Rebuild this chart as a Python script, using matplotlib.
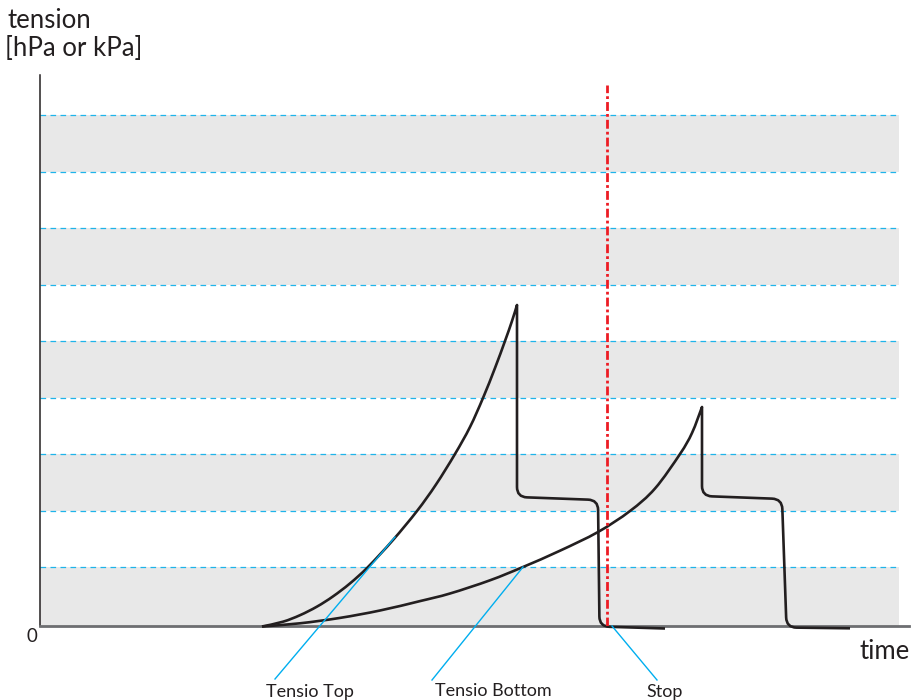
import matplotlib
matplotlib.use("Agg")
import matplotlib.pyplot as plt
import numpy as np
from matplotlib.path import Path
from matplotlib.patches import PathPatch

plt.rcParams['font.family'] = ['Lato', 'DejaVu Sans']

# ---- data (time units, tension units) ----
grid_levels = [5.9, 11.5, 17.2, 22.8, 28.5, 34.1, 39.8, 45.4, 51.1]
gray_bands = [(0.0, 5.9), (11.5, 17.2), (22.8, 28.5), (34.1, 39.8), (45.4, 51.1)]

# Tensio Top: rising part, then the drop (corner points)
top_rise_t = [22.2, 24.3, 26.0, 27.7, 29.3, 31.0, 32.8, 35.3, 37.7, 39.6, 41.5,
              43.0, 44.3, 45.5, 46.5, 47.2, 47.7]
top_rise_v = [-0.05, 0.43, 1.08, 1.94, 2.96, 4.26, 5.9, 8.6, 11.5, 14.15, 17.2,
              19.9, 22.8, 25.8, 28.5, 30.5, 32.1]
top_fall_t = [47.7, 47.7, 55.8, 55.95, 62.5]
top_fall_v = [32.1, 12.9, 12.6, -0.05, -0.25]

# Tensio Bottom
bot_rise_t = [22.2, 26.0, 30.0, 34.0, 38.0, 41.0, 45.0, 48.3, 52.0, 55.8, 59.0,
              61.5, 64.0, 65.2, 66.2]
bot_rise_v = [-0.05, 0.27, 0.81, 1.55, 2.49, 3.25, 4.57, 5.9, 7.53, 9.4, 11.5,
              13.75, 17.2, 19.3, 21.9]
bot_fall_t = [66.2, 66.2, 74.2, 74.65, 81.0]
bot_fall_v = [21.9, 13.0, 12.7, -0.15, -0.23]

stop_t = 56.7
stop_top = 54.1

labels = ["Tensio Top", "Tensio Bottom", "Stop"]
label_t = [26.95, 45.35, 62.5]
callout_from = [(35.5, 8.9), (48.3, 5.9), (57.2, 0.0)]
callout_to = [(23.5, -5.3), (39.2, -5.4), (61.7, -5.4)]


def smooth_segments(xs, ys):
    """Cubic Bezier segments passing through the given points."""
    P = np.column_stack([xs, ys]).astype(float)
    n = len(P)
    verts, codes = [], []
    for i in range(n - 1):
        p0 = P[i - 1] if i > 0 else P[i]
        p1, p2 = P[i], P[i + 1]
        p3 = P[i + 2] if i + 2 < n else P[i + 1]
        c1 = p1 + (p2 - p0) / 6.0
        c2 = p2 - (p3 - p1) / 6.0
        verts += [c1, c2, p2]
        codes += [Path.CURVE4] * 3
    return verts, codes


def rounded_segments(xs, ys, r):
    """Polyline with rounded corners (continuing from first point)."""
    P = np.column_stack([xs, ys]).astype(float)
    verts, codes = [], []
    for i in range(1, len(P) - 1):
        prev, cur, nxt = P[i - 1], P[i], P[i + 1]
        d1 = cur - prev
        d2 = nxt - cur
        l1, l2 = np.hypot(*d1), np.hypot(*d2)
        rr = min(r, l1 / 2, l2 / 2)
        a = cur - d1 / l1 * rr
        b = cur + d2 / l2 * rr
        verts += [a, cur, b]
        codes += [Path.LINETO, Path.CURVE3, Path.CURVE3]
    verts.append(P[-1])
    codes.append(Path.LINETO)
    return verts, codes


def curve_patch(rt, rv, ft, fv):
    v1, c1 = smooth_segments(rt, rv)
    v2, c2 = rounded_segments(ft, fv, 1.0)
    verts = [(rt[0], rv[0])] + v1 + v2
    codes = [Path.MOVETO] + c1 + c2
    return PathPatch(Path(verts, codes), fill=False, edgecolor='#231f20',
                     lw=1.9, joinstyle='round', capstyle='butt', zorder=4)


# ---- figure ----
fig = plt.figure(figsize=(9.13, 7.0), dpi=100)
ax = fig.add_axes([40 / 913, 74 / 700, 869 / 913, 551 / 700])
ax.set_xlim(0, 86.9)
ax.set_ylim(0, 55.1)

band_end = 85.9
for lo, hi in gray_bands:
    ax.fill_between([0, band_end], lo, hi, color='#e8e8e8', lw=0, zorder=1)
for g in grid_levels:
    ax.plot([0, band_end], [g, g], color='#1fb4ea', lw=0.9, ls=(0, (4.5, 3.5)), zorder=2)

for patch in (curve_patch(top_rise_t, top_rise_v, top_fall_t, top_fall_v),
              curve_patch(bot_rise_t, bot_rise_v, bot_fall_t, bot_fall_v)):
    patch.set_clip_on(False)
    ax.add_patch(patch)

ax.plot([stop_t, stop_t], [0, stop_top], color='#ed1c24', lw=2.0,
        ls=(0, (3.2, 1.1, 1.0, 1.1)), zorder=5)

for label, tx, (x0, y0), (x1, y1) in zip(labels, label_t, callout_from, callout_to):
    ax.plot([x0, x1], [y0, y1], color='#00aeef', lw=1.0, zorder=6, clip_on=False)
    ax.text(tx, -7.05, label, ha='center', va='baseline', fontsize=13,
            color='#231f20')

for s in ['top', 'right']:
    ax.spines[s].set_visible(False)
ax.spines['left'].set_color('#231f20')
ax.spines['left'].set_linewidth(1.1)
ax.spines['bottom'].set_color('#6d6e71')
ax.spines['bottom'].set_linewidth(2.0)
ax.set_xticks([])
ax.set_yticks([])

fig.text(7 / 913, 1 - 28 / 700, "tension", ha='left', va='baseline',
         fontsize=18.5, color='#231f20')
fig.text(5 / 913, 1 - 56 / 700, "[hPa or kPa]", ha='left', va='baseline',
         fontsize=18.5, color='#231f20')
fig.text(32 / 913, 1 - 636 / 700, "0", ha='center', va='center', fontsize=13.5,
         color='#231f20')
fig.text(910 / 913, 1 - 659 / 700, "time", ha='right', va='baseline', fontsize=18.5,
         color='#231f20')

fig.savefig("out.png", dpi=100)
